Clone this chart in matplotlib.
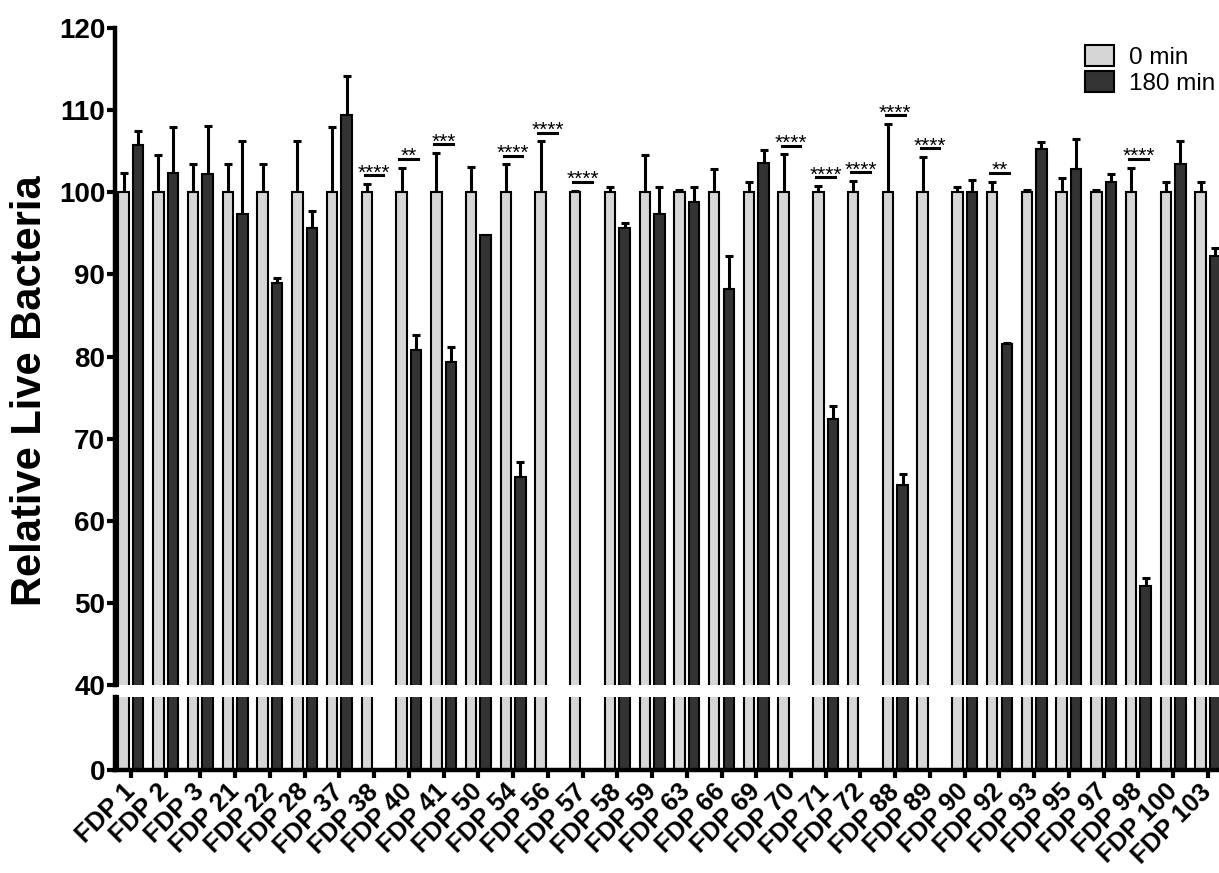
import numpy as np
import matplotlib
matplotlib.use("Agg")
import matplotlib.pyplot as plt
from matplotlib.patches import Patch

plt.rcParams['font.family'] = ['Liberation Sans', 'DejaVu Sans']

# data -------------------------------------------------------------------
labels = ["FDP 1", "FDP 2", "FDP 3", "FDP 21", "FDP 22", "FDP 28", "FDP 37",
          "FDP 38", "FDP 40", "FDP 41", "FDP 50", "FDP 54", "FDP 56", "FDP 57",
          "FDP 58", "FDP 59", "FDP 63", "FDP 66", "FDP 69", "FDP 70", "FDP 71",
          "FDP 72", "FDP 88", "FDP 89", "FDP 90", "FDP 92", "FDP 93", "FDP 95",
          "FDP 97", "FDP 98", "FDP 100", "FDP 103"]

mean_0 = [100] * 32
err_0 = [2.3, 4.5, 3.4, 3.4, 3.4, 6.3, 8.0, 1.0, 3.0, 4.8, 3.1, 3.4, 6.2, 0.2,
         0.7, 4.5, 0.3, 2.8, 1.2, 4.6, 0.8, 1.4, 8.3, 4.3, 0.6, 1.3, 0.3, 1.7,
         0.3, 3.0, 1.3, 1.2]

mean_180 = [105.8, 102.3, 102.2, 97.4, 88.9, 95.7, 109.4, 0, 80.8, 79.3, 94.8,
            65.3, 0, 0, 95.7, 97.4, 98.8, 88.2, 103.6, 0, 72.4, 0, 64.3, 0,
            100.0, 81.5, 105.3, 102.8, 101.3, 52.0, 103.4, 92.2]
err_180 = [1.7, 5.7, 5.9, 8.9, 0.7, 2.0, 4.8, 0, 1.8, 1.8, 0, 1.9, 0, 0, 0.6,
           3.3, 1.8, 4.1, 1.5, 0, 1.6, 0, 1.4, 0, 1.5, 0.2, 0.8, 3.7, 0.9, 1.0,
           2.9, 1.0]

# significance of 0 vs 180 min
sig = {"FDP 38": "****", "FDP 40": "**", "FDP 41": "***", "FDP 54": "****",
       "FDP 56": "****", "FDP 57": "****", "FDP 70": "****", "FDP 71": "****",
       "FDP 72": "****", "FDP 88": "****", "FDP 89": "****", "FDP 92": "**",
       "FDP 98": "****"}

light = "#d6d6d6"
dark = "#333333"

# figure ----------------------------------------------------------------
fig = plt.figure(figsize=(12.19, 8.73), dpi=100)
ax_top = fig.add_axes([0.0943, 0.2153, 0.9057, 0.7526])
ax_bot = fig.add_axes([0.0943, 0.118, 0.9057, 0.0836])

x = np.arange(len(labels))
off = 0.21
w = 0.30

for ax in (ax_top, ax_bot):
    ax.bar(x - off, mean_0, w, color=light, edgecolor="black", linewidth=1.5, zorder=2)
    ax.bar(x + off, mean_180, w, color=dark, edgecolor="black", linewidth=1.5, zorder=2)
    e0 = np.array(err_0)
    e1 = np.array(err_180)
    ax.errorbar(x - off, mean_0, yerr=[np.zeros_like(e0), e0], fmt="none",
                ecolor="black", elinewidth=2.2, capsize=3, capthick=2.2, zorder=1)
    has = e1 > 0
    ax.errorbar((x + off)[has], np.array(mean_180)[has],
                yerr=[np.zeros(has.sum()), e1[has]], fmt="none",
                ecolor="black", elinewidth=2.2, capsize=3, capthick=2.2, zorder=1)
    ax.set_xlim(-0.46, 31.32)
    for s in ("top", "right"):
        ax.spines[s].set_visible(False)
    ax.spines["left"].set_linewidth(3.2)

# top segment
ax_top.set_ylim(40, 120)
ax_top.set_yticks(np.arange(40, 121, 10))
ax_top.spines["bottom"].set_visible(False)
ax_top.tick_params(axis="x", bottom=False, labelbottom=False)
ax_top.tick_params(axis="y", length=6, width=3, labelsize=20, pad=1)
for t in ax_top.get_yticklabels():
    t.set_fontweight("bold")

# bottom segment
ax_bot.set_ylim(0, 9)
ax_bot.set_yticks([0])
ax_bot.spines["bottom"].set_linewidth(3.2)
ax_bot.tick_params(axis="y", length=6, width=3, labelsize=20, pad=1)
ax_bot.tick_params(axis="x", length=6, width=3, pad=7)
ax_bot.set_xticks(x)
ax_bot.set_xticklabels(labels, rotation=45, ha="right", va="center",
                       rotation_mode="anchor", fontsize=18.5, fontweight="bold")
for t in ax_bot.get_yticklabels():
    t.set_fontweight("bold")

# small stubs at the axis break
ax_top.plot([0, 0.004], [0, 0], transform=ax_top.transAxes, color="black",
            lw=3, clip_on=False, solid_capstyle="butt")
ax_bot.plot([0, 0.004], [1, 1], transform=ax_bot.transAxes, color="black",
            lw=3, clip_on=False, solid_capstyle="butt")

# significance brackets
for i, lab in enumerate(labels):
    if lab in sig:
        top = max(mean_0[i] + err_0[i], mean_180[i] + err_180[i])
        yb = top + 1.05
        ax_top.plot([i - 0.27, i + 0.27], [yb, yb], color="black", lw=2.2, zorder=3)
        ax_top.text(i, yb - 0.4, sig[lab], ha="center", va="baseline",
                    fontsize=15, zorder=3)

ax_top.legend(handles=[Patch(facecolor=light, edgecolor="black", lw=1.5, label="0 min"),
                       Patch(facecolor=dark, edgecolor="black", lw=1.5, label="180 min")],
              loc="upper right", bbox_to_anchor=(1.012, 1.0), frameon=False,
              fontsize=17.5, handlelength=1.2, handleheight=0.95,
              handletextpad=0.6, labelspacing=0.1, borderaxespad=0.3)

fig.text(0.025, 0.553, "Relative Live Bacteria", rotation=90, ha="center",
         va="center", fontsize=30, fontweight="bold")

fig.savefig("out.png", dpi=100)
